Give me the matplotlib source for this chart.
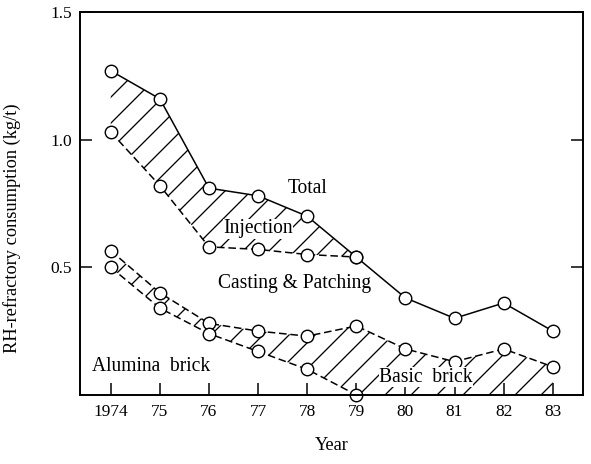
import matplotlib
matplotlib.use('Agg')
import matplotlib.pyplot as plt

# Data (kg/t)
years = [1974, 1975, 1976, 1977, 1978, 1979, 1980, 1981, 1982, 1983]
year_labels = ['1974', '75', '76', '77', '78', '79', '80', '81', '82', '83']
total = [1.27, 1.16, 0.81, 0.78, 0.70, 0.54, 0.38, 0.30, 0.36, 0.25]
inj_years = [1974, 1975, 1976, 1977, 1978, 1979]
injection_low = [1.03, 0.82, 0.58, 0.57, 0.55, 0.54]
basic_top = [0.565, 0.40, 0.28, 0.25, 0.23, 0.27, 0.18, 0.13, 0.18, 0.11]
alumina = [0.50, 0.34, 0.24, 0.17, 0.10, 0.0, 0.0, 0.0, 0.0, 0.0]

plt.rcParams['font.family'] = ['Liberation Serif', 'DejaVu Serif']
plt.rcParams['hatch.linewidth'] = 1.2

# dpi 78 gives hatch spacing close to the original
DPI = 78
fig = plt.figure(figsize=(591 / DPI, 464 / DPI), dpi=DPI)
ax = fig.add_axes([0.135, 0.149, 0.851, 0.825])

# hatched areas
ax.fill_between(inj_years, injection_low, total[:6], facecolor='white',
                edgecolor='black', linewidth=0, hatch='/')
ax.fill_between(years, alumina, basic_top, facecolor='white',
                edgecolor='black', linewidth=0, hatch='/')

mk = dict(marker='o', markersize=11.5, markerfacecolor='white',
          markeredgecolor='black', markeredgewidth=1.3, color='black')
dash = (0, (5, 2.5))
ax.plot(years, total, linestyle='-', linewidth=1.4, **mk)
ax.plot(inj_years, injection_low, linestyle=dash, linewidth=1.4, **mk)
ax.plot(years, basic_top, linestyle=dash, linewidth=1.4, **mk)
ax.plot(years[:6], alumina[:6], linestyle=dash, linewidth=1.4, clip_on=False, **mk)

fs = 18
ax.text(1978.0, 0.81, 'Total', fontsize=fs, ha='center', va='center')
ax.text(1977.0, 0.65, 'Injection', fontsize=fs, ha='center', va='center',
        bbox=dict(facecolor='white', edgecolor='none', pad=0.5))
ax.text(1977.75, 0.435, 'Casting & Patching', fontsize=fs, ha='center', va='center')
ax.text(1974.83, 0.11, 'Alumina  brick', fontsize=fs, ha='center', va='center')
ax.text(1980.42, 0.07, 'Basic  brick', fontsize=fs, ha='center', va='center',
        bbox=dict(facecolor='white', edgecolor='none', pad=0.5))

ax.set_xlim(1973.37, 1983.61)
ax.set_ylim(0, 1.5)
ax.set_xticks(years)
ax.set_xticklabels(year_labels)
ax.set_yticks([0.5, 1.0, 1.5])
ax.set_yticklabels(['0.5', '1.0', '1.5'])
ax.tick_params(axis='both', direction='in', length=11, width=1.4,
               labelsize=16, right=True, top=False)
ax.tick_params(axis='x', pad=8)
ax.tick_params(axis='y', pad=7)
for s in ax.spines.values():
    s.set_linewidth(1.8)

ax.set_xlabel('Year', fontsize=17, labelpad=16)
ax.set_ylabel('RH-refractory consumption (kg/t)', fontsize=17)
ax.yaxis.set_label_coords(-0.117, 0.436)

fig.savefig('out.png', dpi=DPI)
